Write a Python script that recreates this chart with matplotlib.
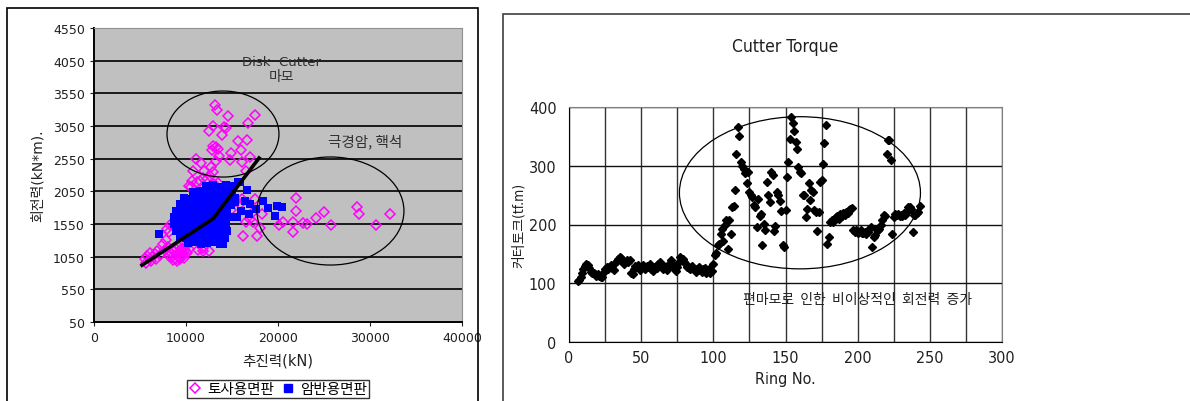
import numpy as np
import matplotlib
matplotlib.use("Agg")
import matplotlib.pyplot as plt
from matplotlib.patches import Ellipse, Rectangle
from matplotlib.lines import Line2D
from matplotlib import font_manager

plt.rcParams['font.family'] = ['DejaVu Sans', 'Noto Sans CJK KR']
kr = 'Noto Sans CJK KR'
cond = font_manager.FontProperties(family='DejaVu Sans', stretch='condensed')
has_cond = 'Condensed' in font_manager.findfont(cond)
stretch = 'condensed' if has_cond else 'normal'

# ---- left chart: 추진력 vs 회전력 ----
soil_x = [13150, 13400, 14600, 17500, 16700, 12970, 14130, 14310, 12540, 13880,
          15690, 16590, 12970, 13260, 12860, 13440, 15940, 14860, 13590, 13260,
          16960, 11050, 11630, 14780, 16120, 12680, 11960, 12970, 10800, 16490,
          13510, 11520, 10620, 10510, 12250, 11160, 10300, 11800, 12600, 13000,
          21960, 21960, 25000, 24130, 28550, 28840, 32180, 30650, 25730, 22750,
          23120, 21600, 21600, 20510, 20150, 16230, 17750, 18050, 16520, 17320,
          18230, 17320, 17500, 16050, 15870, 11810, 13880, 17000, 15400, 14900,
          5500, 5800, 6100, 6300, 6600, 6900, 7200, 5700, 6200, 6700,
          8100, 8500, 8900, 9300, 9700, 10100, 8300, 8700, 9100, 9500,
          9900, 10300, 8600, 9000, 9400, 9800, 8800, 9200, 9600, 10000,
          7500, 7800, 8200, 8000, 7700, 11300, 11900, 12500, 8300, 7900]
soil_y = [3370, 3295, 3210, 3225, 3090, 3055, 3040, 3015, 2980, 2910,
          2825, 2840, 2750, 2725, 2690, 2700, 2690, 2640, 2595, 2520,
          2570, 2545, 2485, 2535, 2505, 2415, 2365, 2350, 2365, 2360,
          2175, 2215, 2215, 2110, 2240, 2190, 2130, 2260, 2280, 2160,
          1945, 1755, 1730, 1635, 1805, 1705, 1705, 1535, 1535, 1560,
          1550, 1575, 1425, 1575, 1535, 1370, 1370, 1485, 1585, 1585,
          1705, 1730, 1935, 1935, 1855, 1140, 1680, 1620, 1900, 1760,
          1010, 1060, 1100, 1040, 1090, 1130, 1080, 960, 990, 1010,
          1060, 1040, 1020, 1050, 1070, 1100, 1120, 1140, 1110, 1130,
          1150, 1160, 1000, 990, 1010, 1030, 1190, 1200, 1180, 1210,
          1250, 1310, 1420, 1200, 1150, 1150, 1190, 1130, 1540, 1480]

rock_x = [12200, 12900, 13600, 14300, 15000, 15700,
          10800, 11500, 12200, 12900, 13600, 14300, 15000,
          9800, 10500, 11200, 11900, 12600, 13300, 14000, 14700, 15300,
          9300, 10000, 10700, 11400, 12100, 12800, 13500, 14200, 14900,
          8900, 9600, 10300, 11000, 11700, 12400, 13100, 13800, 14500,
          8700, 9400, 10100, 10800, 11500, 12200, 12900, 13600, 14300, 15000,
          8700, 9400, 10100, 10800, 11500, 12200, 12900, 13600, 14300,
          8900, 9600, 10300, 11000, 11700, 12400, 13100, 13800, 14500,
          9300, 10000, 10700, 11400, 12100, 12800, 13500, 14200,
          10200, 10900, 11600, 12300, 13000, 13700,
          7100, 13990, 16590, 15870, 18400, 19850, 20400, 19680, 16410, 15330,
          17000, 16000, 16800, 15500, 18900, 17600]
rock_y = [2130, 2140, 2120, 2150, 2130, 2190,
          2040, 2050, 2060, 2040, 2050, 2060, 2040,
          1950, 1940, 1960, 1950, 1940, 1960, 1950, 1940, 1950,
          1850, 1860, 1840, 1850, 1860, 1840, 1850, 1860, 1840,
          1750, 1740, 1760, 1750, 1740, 1760, 1750, 1740, 1760,
          1650, 1660, 1640, 1650, 1660, 1640, 1650, 1660, 1640, 1650,
          1550, 1540, 1560, 1550, 1540, 1560, 1550, 1540, 1560,
          1450, 1460, 1440, 1450, 1460, 1440, 1450, 1460, 1440,
          1350, 1340, 1360, 1350, 1340, 1360, 1350, 1340,
          1260, 1270, 1250, 1260, 1270, 1250,
          1390, 1245, 2075, 2190, 1905, 1820, 1805, 1675, 1905, 1880,
          1850, 1750, 1700, 1650, 1800, 1780]

trend_x = [5220, 12940, 17940]
trend_y = [920, 1630, 2560]

# ---- right chart: Cutter Torque ----
ring = list(range(6, 244))
torque = [104, 106, 110, 118, 125, 130, 133, 131, 126, 120,
          117, 118, 115, 113, 116, 112, 111, 110, 119, 125,
          127, 124, 128, 131, 126, 122, 135, 138, 141, 145,
          143, 138, 132, 136, 140, 137, 139, 118, 115, 124,
          130, 127, 131, 122, 126, 131, 128, 124, 130, 127,
          133, 125, 121, 128, 130, 126, 132, 136, 129, 124,
          130, 127, 123, 128, 135, 140, 131, 126, 121, 128,
          137, 144, 140, 142, 137, 132, 128, 126, 124, 129,
          126, 122, 119, 125, 128, 122, 119, 124, 126, 118,
          123, 125, 117, 121, 133,
          148, 152, 165, 167, 183, 193, 172, 200, 207, 158,
          208, 184, 230, 232, 258, 320, 366, 350, 306, 300,
          295, 287, 270, 289, 255, 250, 247, 233, 230, 196,
          244, 215, 218, 165, 201, 190, 272, 250, 238, 289,
          284, 189, 197, 255, 250, 240, 223, 165, 162, 224,
          281, 306, 346, 383, 373, 360, 340, 329, 298, 290,
          288, 250, 251, 213, 227, 270, 241, 258, 255, 224,
          221, 189, 221, 272, 275, 303, 338, 370, 167, 179,
          204, 207, 205, 210, 212, 215, 209, 218, 214, 220,
          217, 222, 219, 225, 227, 228, 190, 188, 191, 186,
          188, 190, 186, 185, 187, 184, 188, 192, 196, 162,
          179, 182, 193, 190, 193, 200, 207, 216, 214, 320,
          343, 343, 309, 184, 213, 218, 216, 218, 215, 217,
          214, 219, 216, 222, 230, 229, 227, 188, 217, 216,
          219, 221, 231]
ring_ticks = [0, 50, 100, 150, 200, 250, 300]
torque_ticks = [0, 100, 200, 300, 400]

W, H = 1190, 402
fig = plt.figure(figsize=(W / 100, H / 100), dpi=100)

# panel borders
fig.patches.append(Rectangle((7 / W, -0.1), (478 - 7) / W, 1.1 - 9 / H,
                             transform=fig.transFigure, fill=False, ec='black', lw=1.2))
fig.patches.append(Rectangle((503 / W, -0.1), 0.6, 1.1 - 15 / H,
                             transform=fig.transFigure, fill=False, ec='#404040', lw=1.2))

# ---------- left ----------
ax1 = fig.add_axes([94 / W, 1 - 323 / H, (462 - 94) / W, (323 - 29) / H])
ax1.set_facecolor('#C0C0C0')
ax1.set_xlim(0, 40000)
ax1.set_ylim(50, 4550)
ax1.set_yticks(np.arange(50, 4551, 500))
ax1.set_xticks(np.arange(0, 40001, 10000))
for yv in np.arange(550, 4550, 500):
    ax1.axhline(yv, color='#1a1a1a', lw=1.4, zorder=1)
for s in ['top', 'right']:
    ax1.spines[s].set_color('#909090')
for s in ['left', 'bottom']:
    ax1.spines[s].set_linewidth(1.4)
ax1.tick_params(labelsize=9, length=3, colors='#202020')

ax1.plot(soil_x, soil_y, 'D', mfc='none', mec='#FF00FF', ms=5, mew=1.1,
         zorder=3, label='토사용면판')
ax1.plot(rock_x, rock_y, 's', color='#0000FF', ms=6.4, mew=0,
         zorder=4, label='암반용면판')
ax1.plot(trend_x, trend_y, color='black', lw=2.6, zorder=5)

ax1.add_patch(Ellipse((14020, 2927), 12170, 1317, fill=False, ec='black', lw=0.9, zorder=6))
ax1.add_patch(Ellipse((25700, 1749), 15980, 1654, fill=False, ec='black', lw=0.9, zorder=6))
ax1.text(20400, 4030, 'Disk  Cutter', ha='center', va='center', fontsize=9.5, color='#303030')
ax1.text(20400, 3815, '마모', ha='center', va='center', fontsize=10, color='#303030', family=kr)
ax1.text(29500, 2820, '극경암, 핵석', ha='center', va='center', fontsize=10.5,
         color='#303030', family=[kr, 'DejaVu Sans'])

ax1.set_xlabel('추진력(kN)', fontsize=10.5, color='#202020', labelpad=6)
ax1.set_ylabel('회전력(kN*m).', fontsize=10, color='#202020', labelpad=6)

fig.legend(handles=[Line2D([], [], marker='D', ls='none', mfc='none', mec='#FF00FF', ms=5, mew=1.1),
                    Line2D([], [], marker='s', ls='none', color='#0000FF', ms=6.2)],
           labels=['토사용면판', '암반용면판'], loc='upper center',
           bbox_to_anchor=(278 / W, 1 - 381 / H), borderaxespad=0, ncol=2,
           frameon=True, fancybox=False, edgecolor='black', handlelength=0.8,
           handletextpad=0.4, columnspacing=0.6, borderpad=0.15,
           prop={'family': [kr], 'size': 10.5})

# ---------- right ----------
ax2 = fig.add_axes([569 / W, 1 - 343 / H, 433 / W, 235 / H])
ax2.set_xlim(0, 300)
ax2.set_ylim(0, 400)
tick_size = 11.5 if has_cond else 10.5
ax2.set_xticks(ring_ticks)
ax2.set_xticklabels([str(t) for t in ring_ticks], fontstretch=stretch, fontsize=tick_size)
ax2.set_xticks(np.arange(25, 300, 50), minor=True)
ax2.set_yticks(torque_ticks)
ax2.set_yticklabels([str(t) for t in torque_ticks], fontstretch=stretch, fontsize=tick_size)
ax2.grid(axis='x', which='both', color='#333333', lw=1.0)
ax2.grid(axis='y', which='major', color='#111111', lw=1.0)
ax2.set_axisbelow(True)
for s in ['top', 'right']:
    ax2.spines[s].set_color('#808080')
ax2.tick_params(which='both', length=0, colors='#202020')
ax2.tick_params(axis='x', pad=6)
ax2.tick_params(axis='y', pad=9)

ax2.plot(ring, torque, 'D', color='black', ms=3.6, zorder=3)
ax2.add_patch(Ellipse((160, 254), 167, 259, fill=False, ec='black', lw=0.9, zorder=4))
ax2.text(120.5, 73, '편마모로  인한  비이상적인  회전력  증가', ha='left', va='center',
         fontsize=10, color='#202020', family=kr, zorder=5)

ax2.set_title('Cutter Torque', fontsize=12.5, color='#202020', pad=40, fontstretch=stretch)
ax2.set_xlabel('Ring No.', fontsize=tick_size, color='#202020', labelpad=4, fontstretch=stretch)
ax2.set_ylabel('커터토크(tf.m)', fontsize=10, color='#202020', labelpad=2, fontstretch=stretch)

fig.savefig('out.png', dpi=100)
